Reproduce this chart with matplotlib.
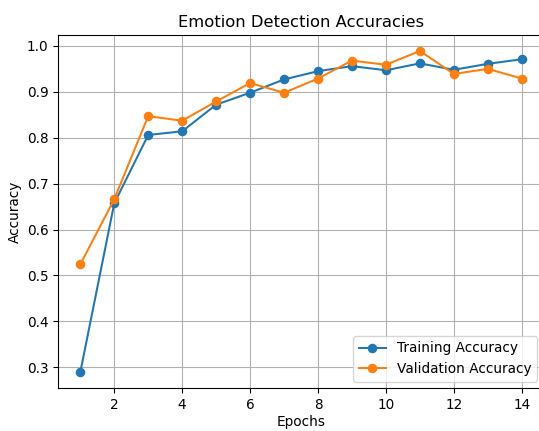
import matplotlib.pyplot as plt

epochs = list(range(1, 15))
train_acc = [0.289, 0.657, 0.806, 0.814, 0.872, 0.898, 0.927, 0.945, 0.956,
             0.947, 0.962, 0.948, 0.961, 0.971]
val_acc = [0.524, 0.666, 0.847, 0.837, 0.879, 0.919, 0.898, 0.929, 0.968,
           0.959, 0.989, 0.939, 0.950, 0.929]

DPI = 98
fig = plt.figure(figsize=(539 / DPI, 431 / DPI), dpi=DPI)
# axes run a bit past the right edge, like the cropped original
ax = fig.add_axes([0.108, 0.099, 0.901, 0.820])

ax.plot(epochs, train_acc, marker='o', label='Training Accuracy')
ax.plot(epochs, val_acc, marker='o', label='Validation Accuracy')

ax.set_title('Emotion Detection Accuracies')
ax.set_xlabel('Epochs', labelpad=2)
ax.set_ylabel('Accuracy')
ax.legend(loc='lower right')
ax.grid(True)

fig.savefig('out.png', dpi=DPI)
